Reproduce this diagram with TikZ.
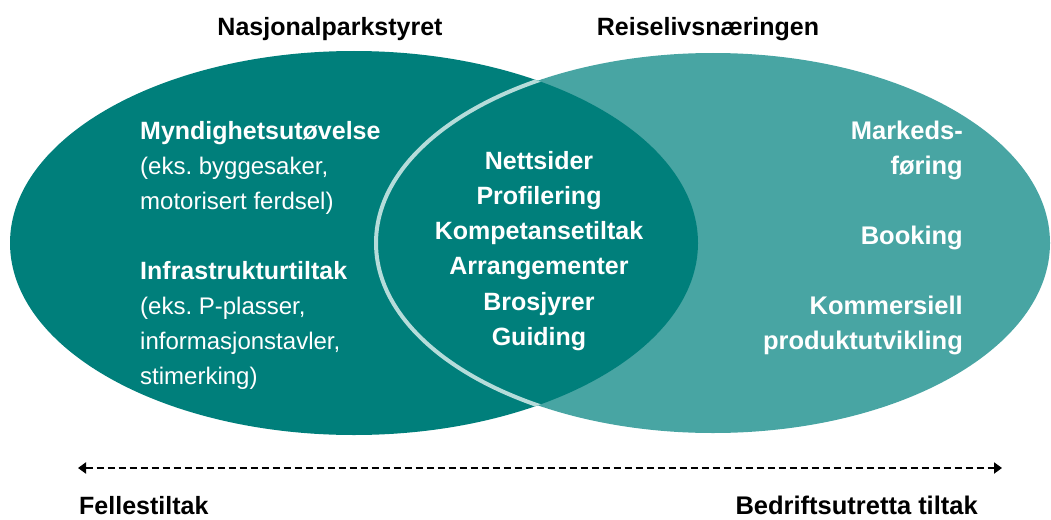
\documentclass[tikz,border=0pt]{standalone}
\usepackage{fontspec}
\setmainfont{Liberation Sans}
\frenchspacing
\usetikzlibrary{arrows.meta}
\definecolor{darkteal}{HTML}{007F7B}
\definecolor{lightteal}{HTML}{48A5A3}
\definecolor{ringcol}{HTML}{B5DCDA}
\newcommand{\bigb}{\fontsize{25}{35}\selectfont\bfseries}
\tikzset{
  bigtxt/.style={inner sep=0pt, font=\fontsize{24}{35}\selectfont},
  intxt/.style={bigtxt, text=white},
  outtxt/.style={bigtxt, text=black, font=\bigb},
}
\begin{document}
\begin{tikzpicture}[x=1pt,y=-1pt]
\useasboundingbox (0,0) rectangle (1051,519);
% ellipses
\fill[lightteal] (713,243) ellipse [x radius=337, y radius=190];
\fill[darkteal] (354,243) ellipse [x radius=344, y radius=192];
\begin{scope}
  \clip (354,243) ellipse [x radius=344, y radius=192];
  \draw[ringcol, line width=4pt] (713,243) ellipse [x radius=337, y radius=190];
\end{scope}
% headings
\node[outtxt, anchor=north] (hl) at (330,17) {Nasjonalparkstyret};
\node[outtxt, anchor=north] (hr) at (708,17) {Reiselivsnæringen};
% left texts
\node[intxt, anchor=north west, align=left] (l1) at (140,121)
  {{\bigb Myndighetsutøvelse}\\(eks. byggesaker,\\motorisert ferdsel)};
\node[intxt, anchor=north west, align=left] (l2) at (140,261)
  {{\bigb Infrastrukturtiltak}\\(eks. P-plasser,\\informasjonstavler,\\stimerking)};
% center texts
\node[intxt, anchor=north, align=center, font=\fontsize{25}{35.2}\selectfont\bfseries] (c) at (539,151)
  {Nettsider\\Profilering\\Kompetansetiltak\\Arrangementer\\Brosjyrer\\Guiding};
% right texts
\node[intxt, anchor=north east, align=right, font=\fontsize{25.5}{35}\selectfont\bfseries] (r) at (963,121)
  {Markeds-\\føring\\[35pt]Booking\\[35pt]Kommersiell\\produktutvikling};
% arrow
\coordinate (aL) at (78,468);
\coordinate (aR) at (1002,468);
\draw[line width=2.6pt, dash pattern=on 7pt off 4pt,
  {Triangle[length=8pt,width=11pt]}-{Triangle[length=8pt,width=11pt]}] (aL) -- (aR);
\node[outtxt, anchor=north west] (bl) at (79,496) {Fellestiltak};
\node[outtxt, anchor=north east, font=\fontsize{25.5}{35}\selectfont\bfseries] (br) at (978,496) {Bedriftsutretta tiltak};
\end{tikzpicture}
\end{document}
